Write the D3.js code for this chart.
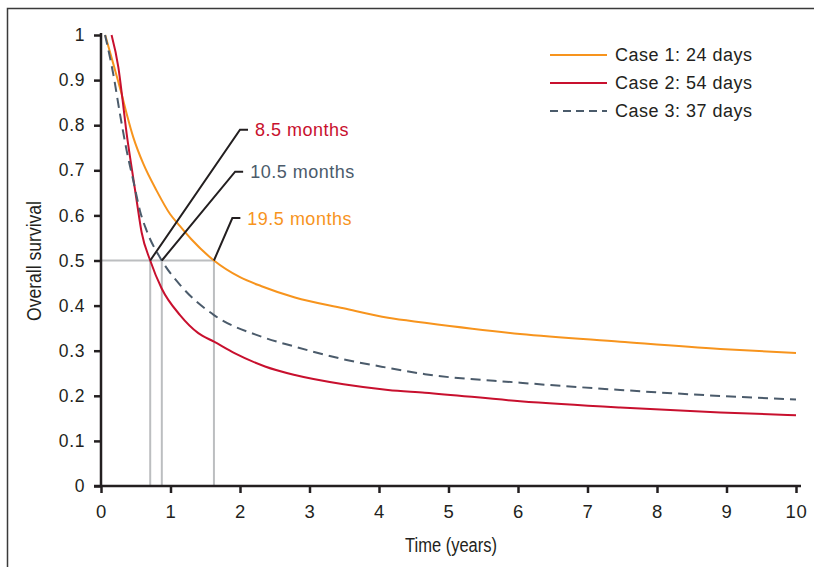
<!DOCTYPE html>
<html>
<head>
<meta charset="utf-8">
<script src="https://cdn.jsdelivr.net/npm/d3@7"></script>
<style>
	body { margin: 0; background: #fff; }
	svg { display: block; font-family: "Liberation Sans", Arial, Helvetica, sans-serif; }
	.axis path, .axis line { stroke: #231f20; stroke-width: 2.5; }
	.axis text { fill: #231f20; letter-spacing: 0.6px; }
</style>
</head>
<body>
<div id="chart"></div>
<script>
// Survival curves: [time in years, overall survival]
let case1 = [
	[0.06, 1.0], [0.177, 0.936], [0.297, 0.869], [0.37, 0.825], [0.465, 0.773],
	[0.61, 0.714], [0.80, 0.655], [0.993, 0.603], [1.137, 0.576], [1.3, 0.547],
	[1.625, 0.5], [2.0, 0.463], [2.31, 0.443], [2.79, 0.418], [3.49, 0.394],
	[4.13, 0.373], [4.66, 0.362], [6.03, 0.337], [7.47, 0.32], [8.91, 0.304],
	[10.0, 0.295]
];
let case2 = [
	[0.152, 1.0], [0.25, 0.928], [0.312, 0.854], [0.37, 0.78], [0.44, 0.707],
	[0.513, 0.633], [0.585, 0.562], [0.708, 0.5], [0.873, 0.438], [1.137, 0.379],
	[1.4, 0.339], [1.626, 0.32], [1.928, 0.294], [2.36, 0.265], [2.79, 0.246],
	[3.49, 0.2255], [4.13, 0.213], [4.66, 0.207], [6.03, 0.188], [7.47, 0.174],
	[8.91, 0.163], [10.0, 0.157]
];
let case3 = [
	[0.058, 1.0], [0.177, 0.913], [0.273, 0.825], [0.37, 0.743], [0.465, 0.677],
	[0.561, 0.61], [0.657, 0.566], [0.875, 0.5], [1.16, 0.442], [1.626, 0.379],
	[2.31, 0.331], [2.79, 0.309], [3.49, 0.281], [4.13, 0.262], [4.66, 0.248],
	[6.03, 0.229], [7.47, 0.213], [8.91, 0.1996], [10.0, 0.192]
];

let seriesNames = ['Case 1: 24 days', 'Case 2: 54 days', 'Case 3: 37 days'];
let seriesColors = ['#f7941d', '#c8102e', '#4b5b6b'];

// Median survival (years) and their labels
let medians = [0.708, 0.875, 1.625];
let medianLabels = ['8.5 months', '10.5 months', '19.5 months'];
let medianColors = ['#c8102e', '#4b5b6b', '#f7941d'];
// where each leader line bends (data units)
let labelX = [2.0, 1.93, 1.89];
let labelY = [0.79, 0.697, 0.594];

let xTicks = [0, 1, 2, 3, 4, 5, 6, 7, 8, 9, 10];
let yTicks = [0, 0.1, 0.2, 0.3, 0.4, 0.5, 0.6, 0.7, 0.8, 0.9, 1];

let W = 814, H = 567;

let svg = d3.select('#chart').append('svg')
		.attr('width', W)
		.attr('height', H);

// frame
svg.append('path')
		.attr('d', `M7.5,${H}V8.5H${W}`)
		.attr('fill', 'none')
		.attr('stroke', '#3a3a3a')
		.attr('stroke-width', 1.5);

let x = d3.scaleLinear().domain([0, 10]).range([101, 796]);
let y = d3.scaleLinear().domain([0, 1]).range([486, 35]);

// gray median guides
let guides = svg.append('g')
		.attr('stroke', '#bcbec0')
		.attr('stroke-width', 2)
		.attr('fill', 'none');
guides.append('line')
		.attr('x1', x(0)).attr('x2', x(d3.max(medians)))
		.attr('y1', y(0.5)).attr('y2', y(0.5));
guides.selectAll('.v')
		.data(medians)
		.enter()
		.append('line')
		.attr('x1', d => x(d)).attr('x2', d => x(d))
		.attr('y1', y(0)).attr('y2', y(0.5));

// axes
let xAxis = svg.append('g')
		.attr('class', 'axis')
		.attr('transform', `translate(0, ${y(0)})`)
		.call(d3.axisBottom(x).tickValues(xTicks).tickSize(7).tickSizeOuter(0).tickPadding(12).tickFormat(d3.format('d')));
xAxis.select('.domain').attr('d', `M${x(0) - 7},0H${x(10) + 5}`);
xAxis.selectAll('text').attr('font-size', 18.5);

let yAxis = svg.append('g')
		.attr('class', 'axis')
		.attr('transform', `translate(${x(0)}, 0)`)
		.call(d3.axisLeft(y).tickValues(yTicks).tickSize(7).tickSizeOuter(0).tickPadding(9).tickFormat(d => d3.format('')(+d.toFixed(1))));
yAxis.select('.domain').attr('d', `M0,${y(1) - 2}V${y(0)}`);
yAxis.selectAll('text').attr('font-size', 17.5);

// axis titles (condensed)
svg.append('text')
		.attr('x', 451)
		.attr('y', 552)
		.attr('text-anchor', 'middle')
		.attr('font-size', 20)
		.attr('fill', '#231f20')
		.attr('textLength', 92)
		.attr('lengthAdjust', 'spacingAndGlyphs')
		.text('Time (years)');

svg.append('text')
		.attr('transform', `translate(41, 261) rotate(-90)`)
		.attr('text-anchor', 'middle')
		.attr('font-size', 20)
		.attr('fill', '#231f20')
		.attr('textLength', 120)
		.attr('lengthAdjust', 'spacingAndGlyphs')
		.text('Overall survival');

// curves
let line = d3.line()
		.x(d => x(d[0]))
		.y(d => y(d[1]))
		.curve(d3.curveMonotoneX);

let allSeries = [case1, case2, case3];
svg.append('g')
		.selectAll('path')
		.data(allSeries)
		.enter()
		.append('path')
		.attr('d', d => line(d))
		.attr('fill', 'none')
		.attr('stroke', (d, i) => seriesColors[i])
		.attr('stroke-width', 2)
		.attr('stroke-dasharray', (d, i) => i === 2 ? '10,6' : null);

// leader lines and labels
let ann = svg.append('g');
ann.selectAll('path')
		.data(medians)
		.enter()
		.append('path')
		.attr('d', (d, i) => `M${x(d)},${y(0.5)}L${x(labelX[i])},${y(labelY[i])}h8`)
		.attr('fill', 'none')
		.attr('stroke', '#231f20')
		.attr('stroke-width', 2);
ann.selectAll('text')
		.data(medianLabels)
		.enter()
		.append('text')
		.attr('x', (d, i) => x(labelX[i]) + 15)
		.attr('y', (d, i) => y(labelY[i]))
		.attr('dy', '0.36em')
		.attr('font-size', 18)
		.attr('letter-spacing', 0.5)
		.attr('fill', (d, i) => medianColors[i])
		.text(d => d);

// legend
let legend = svg.append('g')
		.selectAll('g')
		.data(seriesNames)
		.enter()
		.append('g')
		.attr('transform', (d, i) => `translate(550, ${55 + i * 28})`);
legend.append('line')
		.attr('x1', 0).attr('x2', 57)
		.attr('stroke', (d, i) => seriesColors[i])
		.attr('stroke-width', 2)
		.attr('stroke-dasharray', (d, i) => i === 2 ? '8,5' : null);
legend.append('text')
		.attr('x', 65)
		.attr('dy', '0.36em')
		.attr('font-size', 18)
		.attr('letter-spacing', 0.5)
		.attr('fill', '#231f20')
		.text(d => d);
</script>
</body>
</html>
